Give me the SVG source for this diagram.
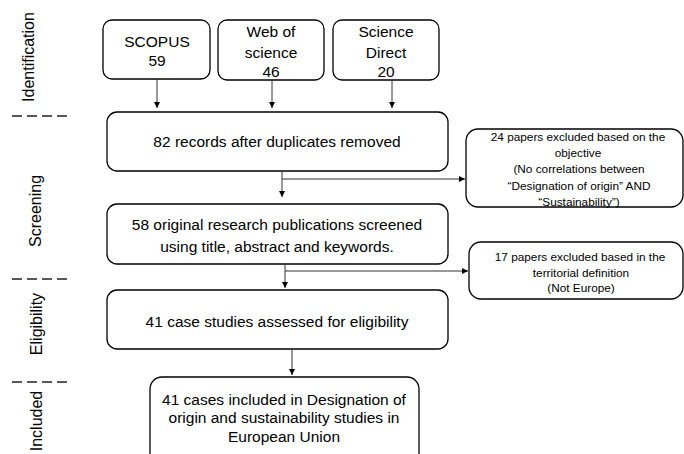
<svg xmlns="http://www.w3.org/2000/svg" width="684" height="454" viewBox="0 0 684 454">
<style>
.box{fill:#fff;stroke:#000;stroke-width:1.3}
.t{font-family:"Liberation Sans",Arial,sans-serif;font-size:15.5px;fill:#000;text-anchor:middle}
.s{font-family:"Liberation Sans",Arial,sans-serif;font-size:11.8px;fill:#000;text-anchor:middle}
.lab{font-family:"Liberation Sans",Arial,sans-serif;font-size:16px;fill:#000;text-anchor:middle}
.c{fill:none;stroke:#333;stroke-width:1}
.d{stroke:#222;stroke-width:1.6;stroke-dasharray:10 5}
</style>
<defs>
<marker id="ah" markerWidth="6" markerHeight="6" refX="6" refY="3" orient="auto" markerUnits="userSpaceOnUse">
<path d="M0,0 L6,3 L0,6 Z" fill="#000"/>
</marker>
</defs>
<g id="labels">
<text class="lab" transform="translate(34,57) rotate(-90)">Identification</text>
<text class="lab" transform="translate(41,211) rotate(-90)">Screening</text>
<text class="lab" transform="translate(42,324) rotate(-90)">Eligibility</text>
<text class="lab" transform="translate(42,421) rotate(-90)">Included</text>
<line class="d" x1="12" y1="116" x2="67" y2="116"/>
<line class="d" x1="12" y1="279" x2="67" y2="279"/>
<line class="d" x1="12" y1="382" x2="67" y2="382"/>
</g>
<g id="scopus">
<rect class="box" x="103" y="20" width="107" height="59" rx="9"/>
<text class="t" x="157" y="47">SCOPUS</text>
<text class="t" x="157" y="66">59</text>
</g>
<g id="wos">
<rect class="box" x="218" y="20" width="106" height="60" rx="9"/>
<text class="t" x="271" y="37">Web of</text>
<text class="t" x="271" y="58">science</text>
<text class="t" x="271" y="77">46</text>
</g>
<g id="sd">
<rect class="box" x="333" y="20" width="106" height="60" rx="9"/>
<text class="t" x="386" y="37">Science</text>
<text class="t" x="386" y="58">Direct</text>
<text class="t" x="386" y="77">20</text>
</g>
<g id="records">
<rect class="box" x="107" y="112" width="341" height="59" rx="10"/>
<text class="t" x="277" y="147">82 records after duplicates removed</text>
</g>
<g id="screened">
<rect class="box" x="107" y="204" width="341" height="60" rx="10"/>
<text class="t" x="277" y="230">58 original research publications screened</text>
<text class="t" x="277" y="252">using title, abstract and keywords.</text>
</g>
<g id="eligibility">
<rect class="box" x="107" y="290" width="341" height="59" rx="10"/>
<text class="t" x="277" y="327">41 case studies assessed for eligibility</text>
</g>
<g id="included">
<rect class="box" x="150" y="377" width="269" height="90" rx="12"/>
<text class="t" x="284" y="405">41 cases included in Designation of</text>
<text class="t" x="284" y="423">origin and sustainability studies in</text>
<text class="t" x="284" y="442">European Union</text>
</g>
<g id="excluded1">
<rect class="box" x="466" y="129" width="217" height="78" rx="12"/>
<text class="s" x="578" y="141">24 papers excluded based on the</text>
<text class="s" x="578" y="157">objective</text>
<text class="s" x="579" y="173">(No correlations between</text>
<text class="s" x="579" y="190">“Designation of origin” AND</text>
<text class="s" x="579" y="206">“Sustainability”)</text>
</g>
<g id="excluded2">
<rect class="box" x="469" y="242" width="214" height="57" rx="12"/>
<text class="s" x="580" y="261">17 papers excluded based in the</text>
<text class="s" x="581" y="277">territorial definition</text>
<text class="s" x="581" y="292">(Not Europe)</text>
</g>
<g id="connectors">
<line class="c" x1="157" y1="79" x2="157" y2="108" marker-end="url(#ah)"/>
<line class="c" x1="272" y1="80" x2="272" y2="108" marker-end="url(#ah)"/>
<line class="c" x1="392" y1="80" x2="392" y2="108" marker-end="url(#ah)"/>
<line class="c" x1="282" y1="171" x2="282" y2="197" marker-end="url(#ah)"/>
<line class="c" x1="282" y1="179" x2="465" y2="179" marker-end="url(#ah)"/>
<line class="c" x1="285" y1="264" x2="285" y2="288" marker-end="url(#ah)"/>
<line class="c" x1="285" y1="271" x2="468" y2="271" marker-end="url(#ah)"/>
<line class="c" x1="292" y1="349" x2="292" y2="375" marker-end="url(#ah)"/>
</g>
</svg>
